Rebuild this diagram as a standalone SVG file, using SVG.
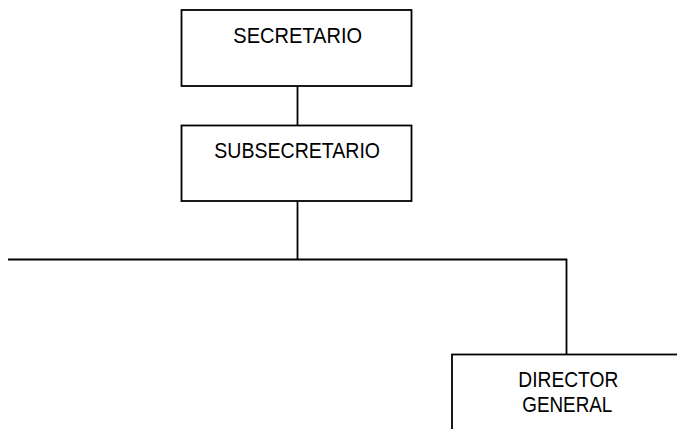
<svg xmlns="http://www.w3.org/2000/svg" width="677" height="429" viewBox="0 0 677 429">
<style>
.box{fill:#fff;stroke:#000;stroke-width:1.8}
.lbl{font-family:"Liberation Sans",Arial,sans-serif;font-size:21.5px;fill:#000;text-anchor:middle}
.conn{fill:none;stroke:#000;stroke-width:1.8}
</style>
<rect width="677" height="429" fill="#fff"/>
<g id="connectors">
<line class="conn" x1="297.5" y1="86" x2="297.5" y2="125.5"/>
<line class="conn" x1="297.5" y1="201" x2="297.5" y2="259.5"/>
<polyline class="conn" points="8,259.5 566.5,259.5 566.5,354.5"/>
</g>
<g id="secretario">
<rect class="box" x="181.5" y="10" width="230" height="76"/>
<text class="lbl" x="297.7" y="43.3" textLength="128.7" lengthAdjust="spacingAndGlyphs">SECRETARIO</text>
</g>
<g id="subsecretario">
<rect class="box" x="181.5" y="125.5" width="230" height="75.5"/>
<text class="lbl" x="297.2" y="158.3" textLength="165.7" lengthAdjust="spacingAndGlyphs">SUBSECRETARIO</text>
</g>
<g id="director-general">
<rect class="box" x="452" y="354.5" width="232" height="90"/>
<text class="lbl" x="568.3" y="387.3" textLength="100" lengthAdjust="spacingAndGlyphs">DIRECTOR</text>
<text class="lbl" x="567.3" y="412.3" textLength="90" lengthAdjust="spacingAndGlyphs">GENERAL</text>
</g>
</svg>
